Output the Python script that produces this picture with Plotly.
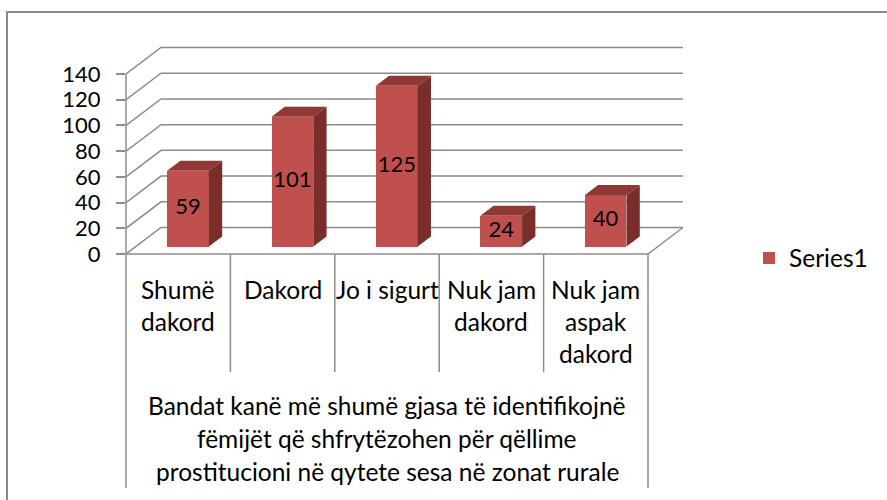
import plotly.graph_objects as go

# ---------------- data ----------------
categories = ["Shumë<br>dakord", "Dakord", "Jo i sigurt", "Nuk jam<br>dakord", "Nuk jam<br>aspak<br>dakord"]
values = [59, 101, 125, 24, 40]
group_label = ["Bandat kanë më shumë gjasa të identifikojnë",
               "fëmijët që shfrytëzohen për qëllime",
               "prostitucioni në qytete sesa në zonat rurale"]
y_ticks = [0, 20, 40, 60, 80, 100, 120, 140]
series_name = "Series1"

# ---------------- style / geometry ----------------
FONT = "Lato"
FS = 22      # digits
FT = 24.5    # words
W, H = 887, 500
ML, MR, MT, MB = 126, 197, 40, 246
plot_w = W - ML - MR
plot_h = H - MT - MB
PX_PER_CAT = 104.4
PX_PER_UNIT = 1.2857
XR = plot_w / PX_PER_CAT
YR = plot_h / PX_PER_UNIT
DX = 35 / PX_PER_CAT          # depth offset in x units
DY = 26.5 / PX_PER_UNIT       # depth offset in y units
T0, DD = 0.28, 0.38           # bar front depth, bar depth
BW = 0.4
GRID = "#8c8c8c"
FRONT, TOP, SIDE = "#C0504D", "#8F3836", "#7A2E2B"
n = len(values)


def pxp(x):   # data x -> paper x
    return x / XR


def pyp(pix_below_floor):  # pixels below the front floor -> paper y
    return -pix_below_floor / plot_h


fig = go.Figure()

base = T0 * DY
centers = [i + 0.5 + T0 * DX for i in range(n)]

# front faces
fig.add_trace(go.Bar(
    x=centers, y=values, base=[base] * n, width=BW,
    marker=dict(color=FRONT, line=dict(width=0)),
    name=series_name, showlegend=True, textposition="none", hoverinfo="skip"))

# top and side faces
tx, ty, sx, sy = [], [], [], []
for c, v in zip(centers, values):
    xl, xr = c - BW / 2, c + BW / 2
    yt = base + v
    tx += [xl, xr, xr + DD * DX, xl + DD * DX, xl, None]
    ty += [yt, yt, yt + DD * DY, yt + DD * DY, yt, None]
    sx += [xr, xr, xr + DD * DX, xr + DD * DX, xr, None]
    sy += [base, yt, yt + DD * DY, base + DD * DY, base, None]
fig.add_trace(go.Scatter(x=tx, y=ty, fill="toself", fillcolor=TOP, mode="none",
                         showlegend=False, hoverinfo="skip"))
fig.add_trace(go.Scatter(x=sx, y=sy, fill="toself", fillcolor=SIDE, mode="none",
                         showlegend=False, hoverinfo="skip"))

# data labels
fig.add_trace(go.Scatter(
    x=centers, y=[base + v / 2 for v in values], text=[str(v) for v in values],
    mode="text", textfont=dict(family=FONT, size=FS, color="black"),
    showlegend=False, hoverinfo="skip", cliponaxis=False))

shapes = []
# back-wall gridlines with the depth diagonal
for v in y_ticks:
    shapes.append(dict(type="path", xref="x", yref="y", layer="below",
                       path=f"M 0,{v} L {DX},{v + DY} L {n + DX},{v + DY}",
                       line=dict(color=GRID, width=1.5)))
# right floor edge
shapes.append(dict(type="line", xref="x", yref="y", layer="below",
                   x0=n, y0=0, x1=n + DX, y1=DY, line=dict(color=GRID, width=1.5)))
# front vertical value axis
shapes.append(dict(type="line", xref="paper", yref="paper",
                   x0=0, y0=0, x1=0, y1=y_ticks[-1] / YR, line=dict(color=GRID, width=1.5)))
# front floor edge / category axis
shapes.append(dict(type="line", xref="paper", yref="paper",
                   x0=0, y0=0, x1=pxp(n), y1=0, line=dict(color=GRID, width=1.5)))
# category separators
for i in range(n + 1):
    depth = 234 if i in (0, n) else 118
    shapes.append(dict(type="line", xref="paper", yref="paper",
                       x0=pxp(i), y0=0, x1=pxp(i), y1=pyp(depth),
                       line=dict(color=GRID, width=1.5)))
# chart border
shapes.append(dict(type="rect", xref="paper", yref="paper",
                   x0=(7 - ML) / plot_w, x1=(W + 10 - ML) / plot_w,
                   y0=pyp(H + 10 - (H - MB)), y1=1 + (MT - 12) / plot_h,
                   line=dict(color="#8a8a8a", width=2), fillcolor="rgba(0,0,0,0)"))

annotations = []
CAT_LINE0, CAT_STEP = 35, 32
for i, lab in enumerate(categories):
    for j, line in enumerate(lab.split("<br>")):
        annotations.append(dict(
            x=pxp(i + 0.5), y=0, xref="paper", yref="paper", text=line, showarrow=False,
            xanchor="center", yanchor="middle", yshift=-(CAT_LINE0 + j * CAT_STEP),
            font=dict(family=FONT, size=FT, color="black")))
GRP_LINE0, GRP_STEP = 151, 33
for j, line in enumerate(group_label):
    annotations.append(dict(
        x=pxp(n / 2), y=0, xref="paper", yref="paper", text=line, showarrow=False,
        xanchor="center", yanchor="middle", yshift=-(GRP_LINE0 + j * GRP_STEP),
        font=dict(family=FONT, size=FT, color="black")))

fig.update_layout(
    width=W, height=H,
    margin=dict(l=ML, r=MR, t=MT, b=MB, pad=0),
    paper_bgcolor="white", plot_bgcolor="white",
    font=dict(family=FONT, size=FS, color="black"),
    xaxis=dict(range=[0, XR], showgrid=False, zeroline=False, showticklabels=False,
               ticks="", showline=False, fixedrange=True),
    yaxis=dict(range=[0, YR], tickvals=y_ticks, ticktext=[str(t) for t in y_ticks],
               showgrid=False, zeroline=False, showline=False,
               ticks="outside", ticklen=9, tickwidth=1.5, tickcolor=GRID,
               ticklabelstandoff=11,
               tickfont=dict(family=FONT, size=FS, color="black"), fixedrange=True),
    legend=dict(x=(749 - ML) / plot_w, y=pyp(4), xanchor="left", yanchor="middle",
                font=dict(family=FONT, size=FT, color="black"),
                bgcolor="rgba(0,0,0,0)", borderwidth=0),
    shapes=shapes, annotations=annotations,
    bargap=0,
)

fig.write_html("out.html", config={"displayModeBar": False},
               post_script="document.body.style.margin='0px';document.body.style.padding='0px';")
